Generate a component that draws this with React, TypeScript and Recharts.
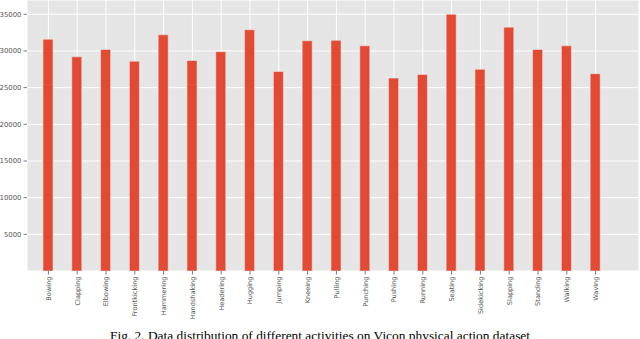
import { Bar, BarChart, CartesianGrid, XAxis, YAxis } from 'recharts'

const activities = [
  'Bowing',
  'Clapping',
  'Elbowing',
  'Frontkicking',
  'Hammering',
  'Handshaking',
  'Headering',
  'Hugging',
  'Jumping',
  'Kneeing',
  'Pulling',
  'Punching',
  'Pushing',
  'Running',
  'Seating',
  'Sidekicking',
  'Slapping',
  'Standing',
  'Walking',
  'Waving',
]

const counts = [
  31600, 29200, 30200, 28600, 32200, 28700, 29900, 32900, 27200, 31400,
  31450, 30700, 26300, 26800, 35000, 27500, 33250, 30200, 30700, 26900,
]

const yTicks = [5000, 10000, 15000, 20000, 25000, 30000, 35000]

const caption =
  'Fig. 2. Data distribution of different activities on Vicon physical action dataset'

const data = activities.map((name, i) => ({ name, count: counts[i] }))

const tickColor = '#555555'

function ActivityTick({ x, y, payload }: any) {
  return (
    <g transform={`translate(${x},${y})`}>
      <line x1={0} x2={0} y1={0} y2={3.5} stroke={tickColor} strokeWidth={0.8} />
      <text
        transform='rotate(-90)'
        x={-5.5}
        y={0}
        dy='0.35em'
        textAnchor='end'
        fontSize={6.6}
        fontFamily='DejaVu Sans'
        fill={tickColor}
      >
        {payload.value}
      </text>
    </g>
  )
}

export default function App() {
  return (
    <div
      style={{
        position: 'absolute',
        top: 0,
        left: 0,
        width: 640,
        height: 339,
        overflow: 'hidden',
        background: '#ffffff',
      }}
    >
      <BarChart
        width={640}
        height={339}
        data={data}
        margin={{ top: 0, right: 1, bottom: 0, left: 0 }}
      >
        <CartesianGrid fill='#E5E5E5' stroke='#ffffff' strokeWidth={1} />
        <XAxis
          dataKey='name'
          height={68}
          padding={{ left: 7, right: 29 }}
          axisLine={false}
          tickLine={false}
          tickSize={0}
          tickMargin={0}
          interval={0}
          tick={<ActivityTick />}
        />
        <YAxis
          width={27}
          domain={[0, 36950]}
          ticks={yTicks}
          allowDataOverflow
          axisLine={false}
          tickSize={3.5}
          tickMargin={2}
          tickLine={{ stroke: tickColor, strokeWidth: 0.8 }}
          tick={{ fill: tickColor, fontSize: 6.9, fontFamily: 'DejaVu Sans' }}
        />
        <Bar
          dataKey='count'
          fill='#E24A33'
          stroke='#EEEEEE'
          strokeWidth={0.5}
          barSize={10}
          isAnimationActive={false}
        />
      </BarChart>
      <div
        style={{
          position: 'absolute',
          left: 0,
          top: 329.1,
          width: 640,
          textAlign: 'center',
          fontFamily: 'Liberation Serif',
          fontSize: 13.4,
          lineHeight: '13.4px',
          color: '#000000',
          whiteSpace: 'nowrap',
        }}
      >
        {caption}
      </div>
    </div>
  )
}
